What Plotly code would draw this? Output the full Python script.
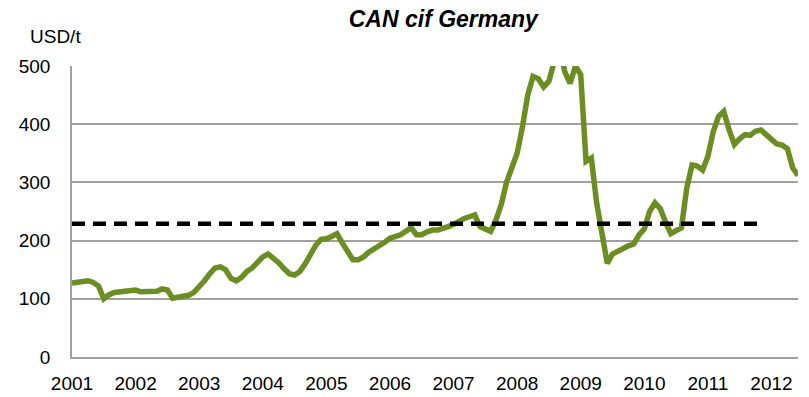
import plotly.graph_objects as go

# Monthly CAN (calcium ammonium nitrate) price, cif Germany, Jan 2001 - Jun 2012, USD/t
start_year = 2001
price_usd_t = [
    127, 129, 131, 131, 128, 122, 100, 107, 111, 112, 112, 113,   # 2001
    115, 112, 113, 113, 113, 117, 115, 101, 103, 104, 106, 111,   # 2002
    120, 131, 143, 153, 155, 150, 135, 131, 137, 147, 153, 163,   # 2003
    172, 177, 170, 162, 152, 143, 141, 147, 160, 175, 192, 202,   # 2004
    203, 207, 212, 196, 180, 167, 167, 172, 180, 185, 190, 197,   # 2005
    204, 206, 210, 216, 222, 210, 210, 215, 218, 218, 220, 224,   # 2006
    228, 234, 238, 241, 244, 224, 220, 216, 235, 262, 300, 327,   # 2007
    350, 395, 450, 482, 478, 464, 474, 508, 530, 490, 470, 500,   # 2008
    485, 336, 342, 265, 215, 161, 177, 182, 188, 191, 194, 210,   # 2009
    220, 250, 265, 255, 232, 212, 217, 222, 290, 330, 328, 321,   # 2010
    345, 387, 413, 422, 390, 365, 375, 382, 381, 388, 390, 383,   # 2011
    374, 366, 364, 358, 325, 312,                                  # 2012
]
month_index = list(range(len(price_usd_t)))

# Long-run average reference level and the months it spans
average_level = 229
average_span = [0, 130]

year_ticks = list(range(0, len(price_usd_t), 12))
year_labels = [str(start_year + i) for i in range(len(year_ticks))]

font_family = "Liberation Sans, Arial, sans-serif"
grid_color = "#a0a0a0"

fig = go.Figure()
fig.add_trace(go.Scatter(
    x=month_index, y=price_usd_t, mode="lines",
    line=dict(color="#6b8e23", width=5.5),
    hoverinfo="skip", showlegend=False,
))
fig.add_trace(go.Scatter(
    x=average_span, y=[average_level] * len(average_span), mode="lines",
    line=dict(color="#000000", width=4.5, dash="13px,8px"),
    hoverinfo="skip", showlegend=False,
))

fig.update_layout(
    width=809, height=397,
    margin=dict(l=72, r=11, t=66, b=40, autoexpand=False),
    paper_bgcolor="white", plot_bgcolor="white",
    font=dict(family=font_family, size=19, color="#000000"),
    title=dict(
        text="<b><i>CAN cif Germany</i></b>",
        x=0.548, xanchor="center", y=0.953, yanchor="middle",
        font=dict(family=font_family, size=23, color="#000000"),
    ),
    annotations=[dict(
        text="USD/t", xref="paper", yref="paper",
        x=-0.06, y=1.1, xanchor="left", yanchor="middle",
        showarrow=False, font=dict(family=font_family, size=19),
    )],
)

fig.update_xaxes(
    range=[0, len(price_usd_t) - 1], automargin=False,
    tickmode="array", tickvals=year_ticks, ticktext=year_labels,
    showgrid=False, zeroline=False,
    showline=True, linecolor=grid_color, linewidth=1.5,
    ticks="", ticklabelstandoff=8,
    tickfont=dict(family=font_family, size=19),
)
fig.update_yaxes(
    range=[0, 500], automargin=False,
    tickmode="array", tickvals=[0, 100, 200, 300, 400, 500],
    showgrid=True, gridcolor=grid_color, gridwidth=1.5,
    zeroline=False, showline=True, linecolor=grid_color, linewidth=1.5,
    ticks="", ticklabelstandoff=16,
    tickfont=dict(family=font_family, size=19),
)

fig.write_html("out.html")
